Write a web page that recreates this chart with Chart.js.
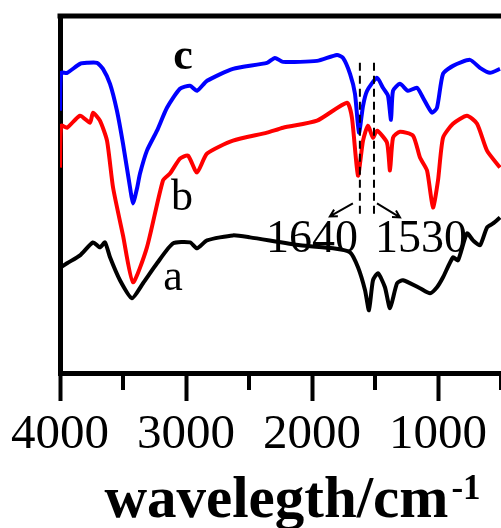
<!DOCTYPE html>
<html>
<head>
<meta charset="utf-8">
<script src="https://cdn.jsdelivr.net/npm/chart.js@4"></script>
<style>
  html, body { margin: 0; padding: 0; background: #fff; }
  canvas { display: block; }
</style>
</head>
<body>
<canvas id="chart" width="501" height="528"></canvas>
<script>
const serif = "'Liberation Serif', 'Times New Roman', serif"

// curve c (blue)
const wavenumbersC = [4000, 3990, 3944, 3841, 3786, 3706, 3659, 3603, 3548, 3500, 3444, 3421, 3389, 3365, 3310, 3230, 3151, 3048, 2968, 2913, 2833, 2627, 2357, 2294, 2230, 1960, 1802, 1754, 1698, 1659, 1627, 1595, 1563, 1484, 1437, 1397, 1373, 1357, 1302, 1238, 1167, 1119, 1048, 1008, 960, 881, 746, 667, 587, 508]
const valuesC = [263, 301, 301, 310, 311, 311, 305, 290, 263, 230, 186, 170, 185, 200, 223, 243, 266, 285, 288, 283, 293, 305, 311, 316, 312, 313, 319, 316, 300, 280, 241, 268, 283, 296, 286, 278, 254, 283, 290, 283, 286, 276, 261, 266, 300, 308, 314, 306, 301, 305]

// curve b (red)
const wavenumbersB = [4000, 3990, 3944, 3841, 3762, 3738, 3683, 3627, 3579, 3500, 3421, 3310, 3183, 3127, 3048, 2984, 2913, 2833, 2627, 2357, 2230, 1960, 1722, 1683, 1635, 1595, 1556, 1516, 1484, 1405, 1381, 1357, 1302, 1198, 1143, 1087, 1040, 1000, 960, 881, 770, 690, 611, 508]
const valuesB = [206, 248, 246, 258, 251, 261, 253, 233, 186, 138, 91, 126, 193, 200, 215, 218, 201, 220, 233, 241, 246, 253, 271, 256, 198, 233, 248, 236, 243, 231, 203, 236, 242, 238, 216, 203, 166, 193, 236, 250, 258, 250, 223, 206]

// curve a (black)
const wavenumbersA = [4000, 3990, 3944, 3841, 3738, 3683, 3643, 3603, 3524, 3429, 3341, 3230, 3103, 2968, 2913, 2833, 2627, 2492, 2095, 1833, 1698, 1635, 1579, 1548, 1516, 1476, 1421, 1381, 1325, 1278, 1143, 1063, 1008, 960, 881, 841, 770, 722, 667, 611, 563, 508]
const valuesA = [96, 106, 110, 118, 131, 126, 131, 116, 93, 75, 90, 110, 130, 131, 125, 133, 138, 136, 128, 125, 121, 106, 83, 63, 93, 100, 86, 65, 90, 93, 85, 80, 86, 96, 116, 113, 140, 133, 128, 146, 150, 156]

const majorTicks = [4000, 3000, 2000, 1000]
const minorTicks = [3500, 2500, 1500, 500]

// dashed marker lines and their labels
const markerWavenumbers = [1620, 1508]
const markerLabels = ['1640', '1530']
const markerRange = [158, 311]
const markerLabelLevel = 121

// curve names placed next to the curves
const curveNames = ['c', 'b', 'a']
const curveNamePositions = [[3024, 305], [3032, 163], [3103, 83]]

const toPoints = (xs, ys) => xs.map((x, i) => ({ x: x, y: ys[i] }))

const arrow = (ctx, x1, y1, x2, y2) => {
  ctx.beginPath()
  ctx.moveTo(x1, y1)
  ctx.lineTo(x2, y2)
  const a = Math.atan2(y2 - y1, x2 - x1)
  const h = 8
  ctx.moveTo(x2 - h * Math.cos(a - 0.5), y2 - h * Math.sin(a - 0.5))
  ctx.lineTo(x2, y2)
  ctx.lineTo(x2 - h * Math.cos(a + 0.5), y2 - h * Math.sin(a + 0.5))
  ctx.stroke()
}

const extras = {
  id: 'extras',
  beforeDatasetsDraw(chart) {
    const { ctx, scales: { x, y } } = chart
    ctx.save()
    ctx.fillStyle = '#000'
    ctx.font = `46px ${serif}`
    const by = y.getPixelForValue(markerLabelLevel)
    ctx.textAlign = 'right'
    ctx.fillText(markerLabels[0], x.getPixelForValue(markerWavenumbers[0]) - 2, by)
    ctx.textAlign = 'left'
    ctx.fillText(markerLabels[1], x.getPixelForValue(markerWavenumbers[1]) + 1, by)
    ctx.restore()
  },
  afterDraw(chart) {
    const { ctx, chartArea, scales: { x, y } } = chart
    ctx.save()
    ctx.strokeStyle = '#000'
    ctx.fillStyle = '#000'

    // top frame line
    ctx.lineWidth = 5
    ctx.beginPath()
    ctx.moveTo(chartArea.left - 2.5, chartArea.top)
    ctx.lineTo(chartArea.right, chartArea.top)
    ctx.stroke()

    // minor ticks
    ctx.lineWidth = 4
    minorTicks.forEach(v => {
      const px = x.getPixelForValue(v)
      ctx.beginPath()
      ctx.moveTo(px, chartArea.bottom)
      ctx.lineTo(px, chartArea.bottom + 17)
      ctx.stroke()
    })

    // dashed markers + arrows
    ctx.lineWidth = 2
    ctx.setLineDash([8, 5])
    const yTop = y.getPixelForValue(markerRange[1])
    const yBot = y.getPixelForValue(markerRange[0])
    markerWavenumbers.forEach(v => {
      const px = x.getPixelForValue(v)
      ctx.beginPath()
      ctx.moveTo(px, yTop)
      ctx.lineTo(px, yBot)
      ctx.stroke()
    })
    ctx.setLineDash([])
    const xl = x.getPixelForValue(markerWavenumbers[0])
    const xr = x.getPixelForValue(markerWavenumbers[1])
    const ay = yBot - 12
    arrow(ctx, xl - 7, ay, xl - 30, ay + 13)
    arrow(ctx, xr + 3, ay, xr + 26, ay + 14)

    // curve names
    ctx.textAlign = 'center'
    curveNames.forEach((n, i) => {
      ctx.font = (n === 'c' ? 'bold ' : '') + `44px ${serif}`
      const [wx, wy] = curveNamePositions[i]
      ctx.fillText(n, x.getPixelForValue(wx), y.getPixelForValue(wy))
    })

    // axis title with superscript
    const main = 'wavelegth/cm'
    const sup = '-1'
    ctx.textAlign = 'left'
    ctx.font = `bold 59px ${serif}`
    const wMain = ctx.measureText(main).width
    ctx.font = `bold 35px ${serif}`
    const wSup = ctx.measureText(sup).width
    const cx = (chartArea.left + chartArea.right) / 2 + 12
    const sx = cx - (wMain + wSup + 3) / 2
    ctx.font = `bold 59px ${serif}`
    ctx.fillText(main, sx, 517)
    ctx.font = `bold 35px ${serif}`
    ctx.fillText(sup, sx + wMain + 3, 499)
    ctx.restore()
  }
}

new Chart(document.getElementById('chart'), {
  type: 'line',
  data: {
    datasets: [
      { label: 'c', data: toPoints(wavenumbersC, valuesC), borderColor: '#0000ff' },
      { label: 'b', data: toPoints(wavenumbersB, valuesB), borderColor: '#ff0000' },
      { label: 'a', data: toPoints(wavenumbersA, valuesA), borderColor: '#000000' }
    ]
  },
  options: {
    responsive: false,
    animation: false,
    parsing: false,
    layout: { padding: { top: 16, right: 0, left: 0, bottom: 0 } },
    elements: {
      line: { borderWidth: 4, tension: 0.2, fill: false },
      point: { radius: 0 }
    },
    plugins: { legend: { display: false }, tooltip: { enabled: false } },
    scales: {
      x: {
        type: 'linear',
        reverse: true,
        min: 500,
        max: 4000,
        afterFit: (scale) => {
          scale.height = 155
          scale.paddingRight = 0
          scale.paddingLeft = 0
        },
        border: { color: '#000', width: 5 },
        grid: {
          drawOnChartArea: false,
          tickLength: 28,
          tickWidth: 4,
          tickColor: (c) => majorTicks.includes(c.tick && c.tick.value) ? '#000' : 'rgba(0,0,0,0)'
        },
        ticks: {
          stepSize: 500,
          autoSkip: false,
          maxRotation: 0,
          padding: 5,
          color: '#000',
          font: { family: serif, size: 49 },
          callback: (v) => majorTicks.includes(v) ? String(v) : ''
        }
      },
      y: {
        min: 0,
        max: 358,
        afterFit: (scale) => { scale.width = 60 },
        border: { color: '#000', width: 5 },
        grid: { display: false },
        ticks: { display: false }
      }
    }
  },
  plugins: [extras]
})
</script>
</body>
</html>
